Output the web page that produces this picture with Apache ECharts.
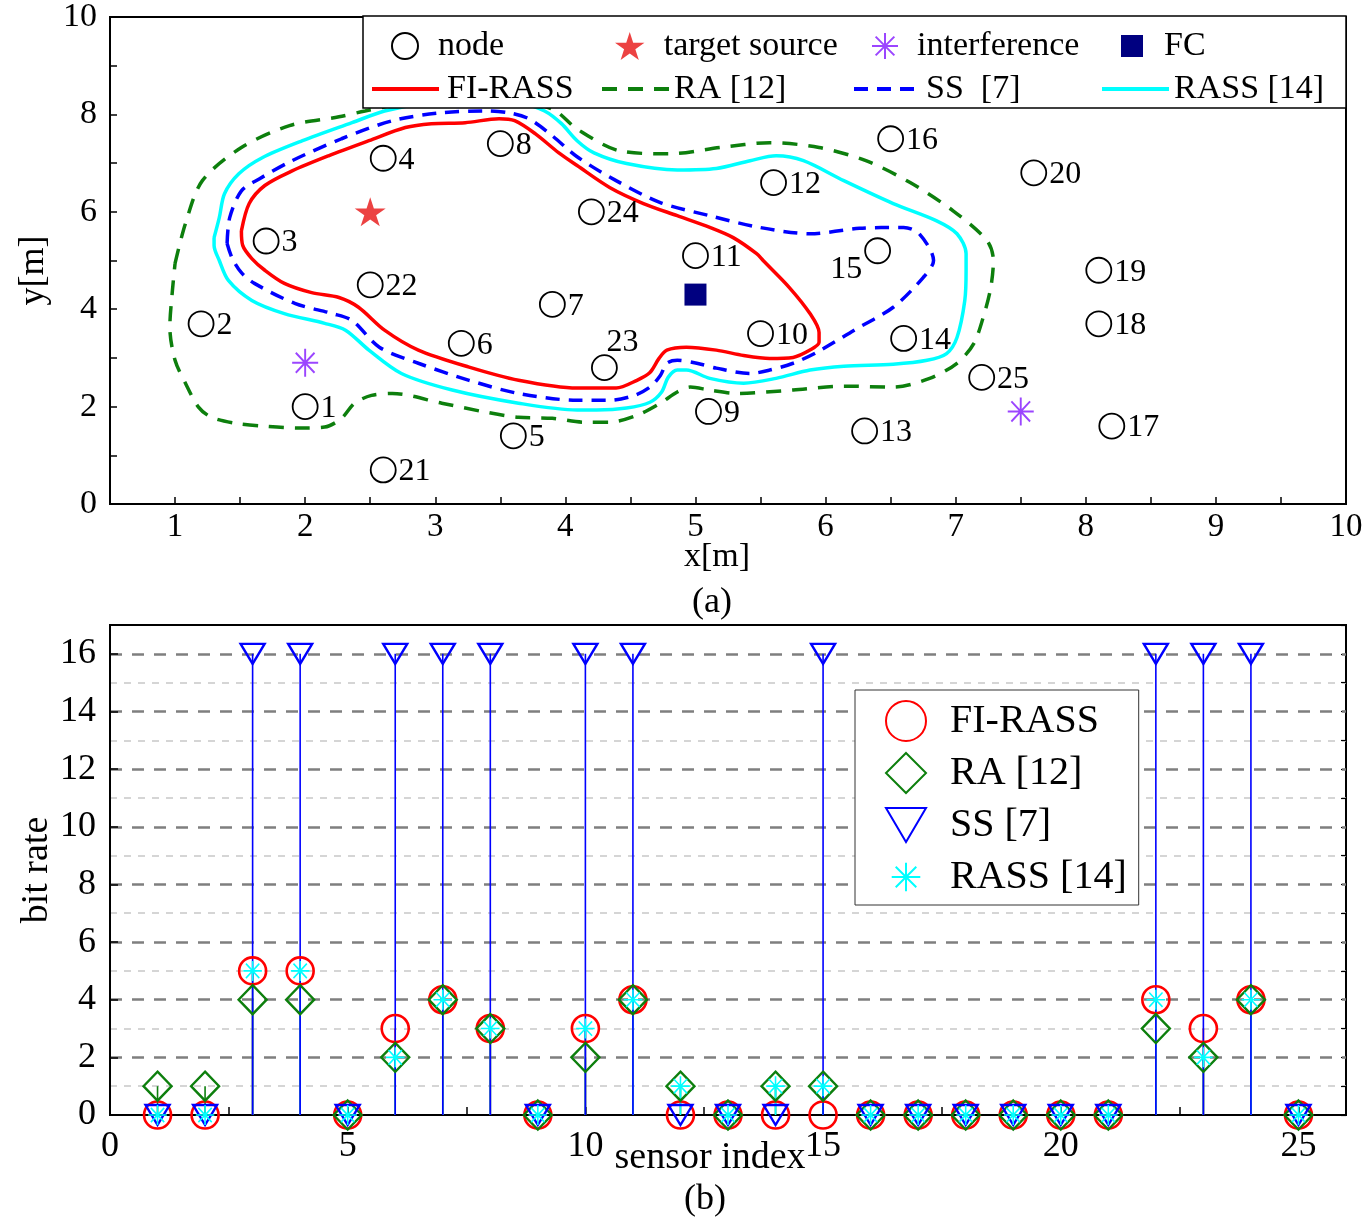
<!DOCTYPE html>
<html>
<head>
<meta charset="utf-8">
<script src="https://cdn.jsdelivr.net/npm/echarts@6/dist/echarts.min.js"></script>
<style>html,body{margin:0;padding:0;background:#fff}#c{width:1371px;height:1226px}</style>
</head>
<body>
<div id="c"></div>
<script>
// ---------------- Panel (a): sensor layout ----------------
const nodeIds = [1,2,3,4,5,6,7,8,9,10,11,12,13,14,15,16,17,18,19,20,21,22,23,24,25];
const nodeX = [2.0,1.2,1.7,2.6,3.6,3.2,3.9,3.5,5.1,5.5,5.0,5.6,6.3,6.6,6.4,6.5,8.2,8.1,8.1,7.6,2.6,2.5,4.3,4.2,7.2];
const nodeY = [2.0,3.7,5.4,7.1,1.4,3.3,4.1,7.4,1.9,3.5,5.1,6.6,1.5,3.4,5.2,7.5,1.6,3.7,4.8,6.8,0.7,4.5,2.8,6.0,2.6];
const targetSource = [[2.5, 6.0]];
const interference = [[2.0, 2.9], [7.5, 1.9]];
const fusionCenter = [[5.0, 4.3]];

const contourFIRASS = [[1.51,5.61],[1.52,5.31],[1.59,5.04],[1.69,4.80],[1.84,4.53],[2.05,4.34],[2.26,4.24],[2.41,4.04],[2.61,3.57],[2.87,3.16],[3.26,2.81],[3.64,2.54],[4.09,2.38],[4.39,2.38],[4.55,2.54],[4.65,2.70],[4.72,2.99],[4.78,3.16],[4.93,3.22],[5.16,3.16],[5.37,3.05],[5.57,2.99],[5.75,3.01],[5.88,3.16],[5.95,3.32],[5.95,3.52],[5.88,3.91],[5.72,4.45],[5.52,5.00],[5.47,5.14],[5.29,5.47],[5.11,5.68],[4.86,5.92],[4.60,6.17],[4.34,6.50],[4.09,6.95],[3.95,7.21],[3.77,7.60],[3.61,7.87],[3.49,7.91],[3.23,7.83],[2.97,7.81],[2.77,7.73],[2.49,7.46],[2.18,7.15],[1.90,6.84],[1.69,6.54],[1.57,6.17],[1.51,5.61]];
const contourRA = [[1.00,4.94],[1.08,5.76],[1.21,6.64],[1.51,7.32],[1.88,7.77],[2.26,7.95],[2.46,8.07],[2.90,8.28],[3.51,8.32],[3.90,8.11],[4.09,7.70],[4.42,7.25],[4.80,7.19],[5.19,7.32],[5.57,7.42],[5.95,7.32],[6.31,7.05],[6.65,6.60],[6.98,6.02],[7.24,5.41],[7.29,5.00],[7.27,4.45],[7.22,3.91],[7.14,3.30],[7.01,2.89],[6.80,2.58],[6.52,2.40],[6.14,2.42],[5.75,2.34],[5.32,2.27],[5.11,2.34],[4.96,2.40],[4.86,2.30],[4.73,2.07],[4.55,1.82],[4.34,1.68],[4.14,1.68],[3.90,1.76],[3.64,1.78],[3.38,1.89],[3.05,2.07],[2.67,2.27],[2.51,2.23],[2.38,2.07],[2.28,1.76],[2.15,1.58],[1.95,1.56],[1.67,1.60],[1.46,1.66],[1.28,1.78],[1.18,1.99],[1.08,2.48],[1.00,2.95],[0.96,3.63],[0.98,4.39],[1.00,4.94]];
const contourSS = [[1.40,5.35],[1.42,5.88],[1.51,6.43],[1.65,6.68],[1.90,7.05],[2.28,7.50],[2.67,7.87],[3.03,8.03],[3.38,8.07],[3.57,8.03],[3.72,7.91],[3.90,7.56],[4.09,7.13],[4.39,6.64],[4.73,6.19],[5.11,5.92],[5.49,5.68],[5.88,5.55],[6.26,5.66],[6.60,5.68],[6.72,5.55],[6.83,5.00],[6.75,4.65],[6.52,4.04],[6.22,3.57],[5.93,3.11],[5.75,2.89],[5.57,2.75],[5.42,2.68],[5.16,2.79],[5.01,2.89],[4.86,2.95],[4.78,2.89],[4.73,2.64],[4.65,2.40],[4.53,2.23],[4.34,2.13],[4.09,2.13],[3.64,2.27],[3.26,2.54],[2.87,2.89],[2.57,3.22],[2.36,3.77],[2.21,3.91],[1.92,4.12],[1.61,4.53],[1.51,4.75],[1.44,5.04],[1.40,5.35]];
const contourRASS = [[1.30,5.47],[1.34,5.88],[1.38,6.37],[1.49,6.78],[1.67,7.11],[1.98,7.46],[2.36,7.83],[2.61,8.07],[2.90,8.22],[3.28,8.28],[3.67,8.22],[3.84,8.07],[3.97,7.81],[4.09,7.46],[4.22,7.21],[4.47,6.99],[4.86,6.86],[5.16,6.89],[5.42,7.05],[5.62,7.15],[5.83,7.05],[6.14,6.64],[6.52,6.17],[6.85,5.82],[7.01,5.55],[7.08,5.14],[7.08,4.80],[7.07,4.18],[7.01,3.42],[6.93,3.09],[6.78,2.95],[6.52,2.87],[6.14,2.83],[5.88,2.75],[5.62,2.58],[5.37,2.48],[5.11,2.58],[4.93,2.75],[4.86,2.75],[4.79,2.60],[4.74,2.30],[4.65,2.09],[4.47,1.97],[4.24,1.93],[4.09,1.93],[3.64,2.07],[3.13,2.34],[2.74,2.68],[2.49,3.16],[2.31,3.57],[2.15,3.71],[1.84,3.91],[1.59,4.18],[1.41,4.59],[1.34,5.00],[1.30,5.31],[1.30,5.47]];

// ---------------- Panel (b): bit rates ----------------
const sensorIndex = [1,2,3,4,5,6,7,8,9,10,11,12,13,14,15,16,17,18,19,20,21,22,23,24,25];
const bitFIRASS = [0,0,5,5,0,3,4,3,0,3,4,0,0,0,0,0,0,0,0,0,0,4,3,4,0];
const bitRA     = [1,1,4,4,0,2,4,3,0,2,4,1,0,1,1,0,0,0,0,0,0,3,2,4,0];
const bitSS     = [0,0,16,16,0,16,16,16,0,16,16,0,0,0,16,0,0,0,0,0,0,16,16,16,0];
const bitRASS   = [0,0,5,5,0,2,4,3,0,3,4,1,0,1,1,0,0,0,0,0,0,4,2,4,0];

// ---------------- styling ----------------
const FONT = "'Liberation Serif', 'Times New Roman', serif";
const RED = '#ff0000', GREEN = '#0d7f0d', BLUE = '#0000ff', CYAN = '#00ffff';
const STAR = 'path://M0,-1L0.2245,-0.309L0.951,-0.309L0.363,0.118L0.588,0.809L0,0.382L-0.588,0.809L-0.363,0.118L-0.951,-0.309L-0.2245,-0.309Z';
const ASTER = 'path://M0,-1L0,1M-1,0L1,0M-0.72,-0.72L0.72,0.72M-0.72,0.72L0.72,-0.72';
const ASTER_PAD = 'path://M-1.4,-1.4M1.4,1.4M0,-1L0,1M-1,0L1,0M-0.72,-0.72L0.72,0.72M-0.72,0.72L0.72,-0.72';
const TRI_DOWN = 'path://M-1,-0.85L1,-0.85L0,0.85ZM0,-1M0,1';
const labelOverride = {15: {position: 'left', offset: [0, 19]}, 23: {position: 'top', offset: [18, 6]}};

const chart = echarts.init(document.getElementById('c'), null, {renderer: 'canvas'});

function contour(name, pts, color, type) {
  return {
    type: 'line', name, xAxisIndex: 0, yAxisIndex: 0, data: pts,
    showSymbol: false, symbol: 'none', smooth: 0.3, z: 2,
    lineStyle: {color, width: 3.5, type},
    itemStyle: {color}
  };
}
function stem(name, values, color) {
  return {
    type: 'custom', name, xAxisIndex: 1, yAxisIndex: 1, silent: true, z: 2,
    data: sensorIndex.map((s, i) => [s, values[i]]),
    renderItem(params, api) {
      const p0 = api.coord([api.value(0), 0]);
      const p1 = api.coord([api.value(0), api.value(1)]);
      return {type: 'line', shape: {x1: p0[0], y1: p0[1], x2: p1[0], y2: p1[1]},
              style: {stroke: color, lineWidth: 1.6}};
    }
  };
}
function marks(name, values, symbol, size, color, bw) {
  return {
    type: 'scatter', name, xAxisIndex: 1, yAxisIndex: 1, z: 3,
    data: sensorIndex.map((s, i) => [s, values[i]]),
    symbol, symbolSize: size,
    itemStyle: {color: 'rgba(0,0,0,0)', borderColor: color, borderWidth: bw, opacity: 1}
  };
}

function topLegend(name, left, top, w, h, pad, isLine) {
  const l = {
    data: [name], left, top, orient: 'horizontal', padding: 0,
    itemWidth: w, itemHeight: h, selectedMode: false,
    textStyle: {fontFamily: FONT, fontSize: 34, color: '#000', lineHeight: 34, padding: [0, 0, 0, pad]}
  };
  if (isLine) { l.itemStyle = {opacity: 0}; l.lineStyle = {width: 4}; }
  return l;
}

const option = {
  backgroundColor: '#fff',
  animation: false,
  grid: [
    {left: 110, right: 25, top: 16, bottom: 722, show: true, borderColor: '#000', borderWidth: 2, backgroundColor: 'transparent'},
    {left: 110, right: 25, top: 625, bottom: 111, show: true, borderColor: '#000', borderWidth: 2, backgroundColor: 'transparent'}
  ],
  xAxis: [
    {type: 'value', gridIndex: 0, min: 0.5, max: 10, interval: 0.5,
     name: 'x[m]', nameLocation: 'middle', nameGap: 36, nameMoveOverlap: false,
     nameTextStyle: {fontFamily: FONT, fontSize: 34, color: '#000', padding: [0, 22, 0, 0]},
     axisLine: {lineStyle: {color: '#000', width: 2}},
     axisTick: {inside: true, length: 7, lineStyle: {color: '#000', width: 1.5}},
     axisLabel: {margin: 7, fontFamily: FONT, fontSize: 33, color: '#000',
                 formatter: v => (Math.abs(v - Math.round(v)) < 1e-9 ? String(Math.round(v)) : '')},
     splitLine: {show: false}},
    {type: 'value', gridIndex: 1, min: 0, max: 26, interval: 2.5,
     name: 'sensor index', nameLocation: 'middle', nameGap: 24, nameMoveOverlap: false,
     nameTextStyle: {fontFamily: FONT, fontSize: 38, color: '#000', padding: [0, 36, 0, 0]},
     axisLine: {lineStyle: {color: '#000', width: 2}},
     axisTick: {inside: true, length: 8, lineStyle: {color: '#000', width: 1.5}},
     axisLabel: {margin: 14, fontFamily: FONT, fontSize: 36, color: '#000',
                 formatter: v => (v % 5 === 0 && v <= 25 ? String(v) : '')},
     splitLine: {show: false}}
  ],
  yAxis: [
    {type: 'value', gridIndex: 0, min: 0, max: 10, interval: 1,
     name: 'y[m]', nameLocation: 'middle', nameGap: 58, nameRotate: 90, nameMoveOverlap: false,
     nameTextStyle: {fontFamily: FONT, fontSize: 36, color: '#000', padding: [0, 20, 0, 0]},
     axisLine: {lineStyle: {color: '#000', width: 2}},
     axisTick: {inside: true, length: 7, lineStyle: {color: '#000', width: 1.5}},
     axisLabel: {margin: 13, fontFamily: FONT, fontSize: 34, color: '#000',
                 formatter: v => (v % 2 === 0 ? String(v) : '')},
     splitLine: {show: false}},
    {type: 'value', gridIndex: 1, min: 0, max: 17, interval: 2,
     name: 'bit rate', nameLocation: 'middle', nameGap: 54, nameRotate: 90, nameMoveOverlap: false,
     nameTextStyle: {fontFamily: FONT, fontSize: 38, color: '#000'},
     axisLine: {lineStyle: {color: '#000', width: 2}},
     axisTick: {inside: true, length: 8, lineStyle: {color: '#000', width: 1.5}},
     axisLabel: {margin: 14, fontFamily: FONT, fontSize: 36, color: '#000',
                 formatter: v => (v % 2 === 0 && v <= 16 ? String(v) : '')},
     splitLine: {show: true, showMinLine: false, showMaxLine: false,
                 lineStyle: {color: '#7f7f7f', width: 2.5, type: [12, 10]}},
     z: 1},
    {type: 'value', gridIndex: 1, min: 0, max: 17, interval: 1,
     axisLine: {show: false},
     axisTick: {inside: true, length: 5, lineStyle: {color: '#000', width: 1.2}},
     axisLabel: {show: false},
     splitLine: {show: true, showMaxLine: false,
                 lineStyle: {color: ['rgba(0,0,0,0)', '#c8c8c8'], width: 1.5, type: [7, 7]}},
     z: 0}
  ],
  legend: [
    topLegend('node', 391, 29, 26, 26, 15),
    topLegend('target source', 615, 29, 30, 28, 14),
    topLegend('interference', 871, 29, 26, 26, 14),
    topLegend('FC', 1121, 29, 22, 22, 16),
    topLegend('FI-RASS', 370, 72, 67, 14, 3, true),
    topLegend('RA [12]', 600, 72, 67, 14, 0, true),
    topLegend('SS  [7]', 852, 72, 67, 14, 0, true),
    topLegend('RASS [14]', 1100, 72, 67, 14, 0, true),
    {data: ['FI-RASS ', 'RA [12] ', 'SS [7]', 'RASS [14] '], orient: 'vertical', left: 855, top: 690,
     padding: [10, 2, 7, 30], itemGap: 10, itemWidth: 40, itemHeight: 40, selectedMode: false,
     backgroundColor: '#fff', borderColor: '#333', borderWidth: 1,
     textStyle: {fontFamily: FONT, fontSize: 40, color: '#000', lineHeight: 40, padding: [0, 0, 0, 19]}}
  ],
  graphic: [
    {type: 'rect', z: 3, shape: {x: 363, y: 16, width: 983, height: 92},
     style: {fill: '#fff', stroke: '#000', lineWidth: 1.5}},
    {type: 'text', z: 5, x: 712, y: 603,
     style: {text: '(a)', font: "36px 'Liberation Serif', serif", fill: '#000', align: 'center', verticalAlign: 'middle'}},
    {type: 'text', z: 5, x: 705, y: 1200,
     style: {text: '(b)', font: "36px 'Liberation Serif', serif", fill: '#000', align: 'center', verticalAlign: 'middle'}}
  ],
  series: [
    contour('RA [12]', contourRA, GREEN, [15, 11]),
    contour('RASS [14]', contourRASS, CYAN, 'solid'),
    contour('SS  [7]', contourSS, BLUE, [14, 9]),
    contour('FI-RASS', contourFIRASS, RED, 'solid'),
    {type: 'scatter', name: 'node', xAxisIndex: 0, yAxisIndex: 0, z: 4,
     data: nodeIds.map((id, i) => Object.assign({value: [nodeX[i], nodeY[i]], name: String(id)},
                                                 labelOverride[id] ? {label: labelOverride[id]} : {})),
     symbol: 'circle', symbolSize: 25,
     itemStyle: {color: 'rgba(0,0,0,0)', borderColor: '#000', borderWidth: 1.8, opacity: 1},
     label: {show: true, position: 'right', distance: 2, offset: [0, 2], formatter: p => p.name,
             fontFamily: FONT, fontSize: 32, color: '#000'}},
    {type: 'scatter', name: 'target source', xAxisIndex: 0, yAxisIndex: 0, z: 4, data: targetSource,
     symbol: STAR, symbolSize: [31, 29], itemStyle: {color: '#ec4242', opacity: 1}},
    {type: 'scatter', name: 'interference', xAxisIndex: 0, yAxisIndex: 0, z: 4, data: interference,
     symbol: ASTER, symbolSize: [26, 28], itemStyle: {color: '#9b45ff', borderColor: '#9b45ff', borderWidth: 2, opacity: 1}},
    {type: 'scatter', name: 'FC', xAxisIndex: 0, yAxisIndex: 0, z: 4, data: fusionCenter,
     symbol: 'rect', symbolSize: [22, 22], itemStyle: {color: '#000080', opacity: 1}},

    stem('stem RA', bitRA, GREEN),
    stem('stem FI-RASS', bitFIRASS, RED),
    stem('stem RASS', bitRASS, CYAN),
    stem('stem SS', bitSS, BLUE),
    marks('FI-RASS ', bitFIRASS, 'circle', 27, RED, 2.6),
    marks('RA [12] ', bitRA, 'diamond', [28, 29], GREEN, 2.4),
    marks('SS [7]', bitSS, TRI_DOWN, [24, 23.5], BLUE, 2.4),
    marks('RASS [14] ', bitRASS, ASTER_PAD, [26, 28], CYAN, 1.6)
  ]
};
chart.setOption(option);
</script>
</body>
</html>
